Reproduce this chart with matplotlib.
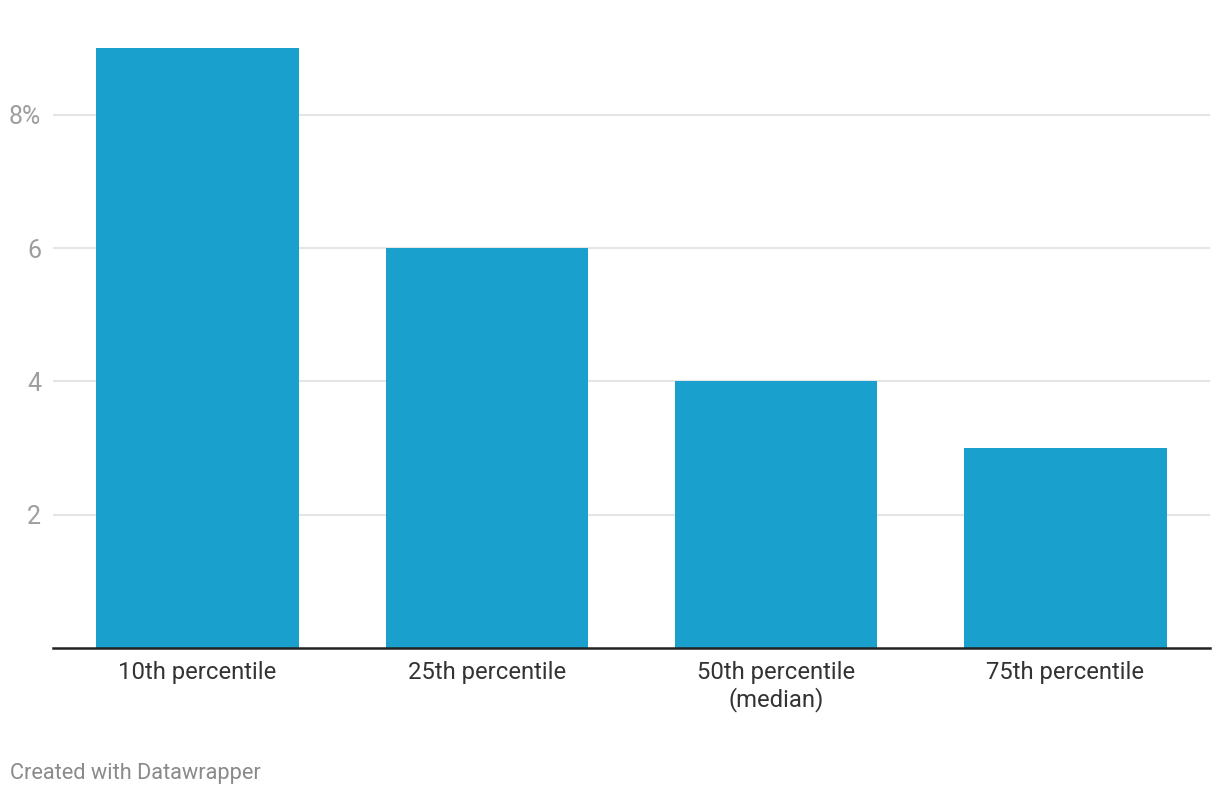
import matplotlib.pyplot as plt
import numpy as np

plt.rcParams['font.family'] = ['Roboto', 'DejaVu Sans']

categories = ['10th percentile', '25th percentile', '50th percentile\n(median)', '75th percentile']
values = [9, 6, 4, 3]
yticks = [2, 4, 6, 8]
ytick_labels = ['2', '4', '6', '8%']

fig = plt.figure(figsize=(12.2, 7.96), dpi=100)
ax = fig.add_axes([53 / 1220, 148 / 796, 1157 / 1220, 600 / 796])

x = np.arange(len(categories))
ax.bar(x, values, width=0.7, color='#1aa0cd', zorder=3)

ax.set_xlim(-0.5, len(categories) - 0.5)
ax.set_ylim(0, 9)
ax.set_yticks(yticks)
ax.set_yticklabels(ytick_labels)
ax.set_xticks(x)
ax.set_xticklabels(categories, linespacing=1.15)

ax.grid(axis='y', color='#e5e5e5', linewidth=1.5, zorder=0)
ax.tick_params(axis='y', length=0, pad=8.5, labelsize=18, labelcolor='#9e9e9e')
ax.tick_params(axis='x', length=0, pad=9.5, labelsize=17.2, labelcolor='#333333')

for side in ['top', 'right', 'left']:
    ax.spines[side].set_visible(False)
ax.spines['bottom'].set_color('#222222')
ax.spines['bottom'].set_linewidth(1.8)
ax.spines['bottom'].set_zorder(4)

fig.text(10 / 1220, 1 - 774 / 796, 'Created with Datawrapper', fontsize=15.7,
         color='#8a8a8a', va='center', ha='left')

fig.savefig('out.png', dpi=100)
